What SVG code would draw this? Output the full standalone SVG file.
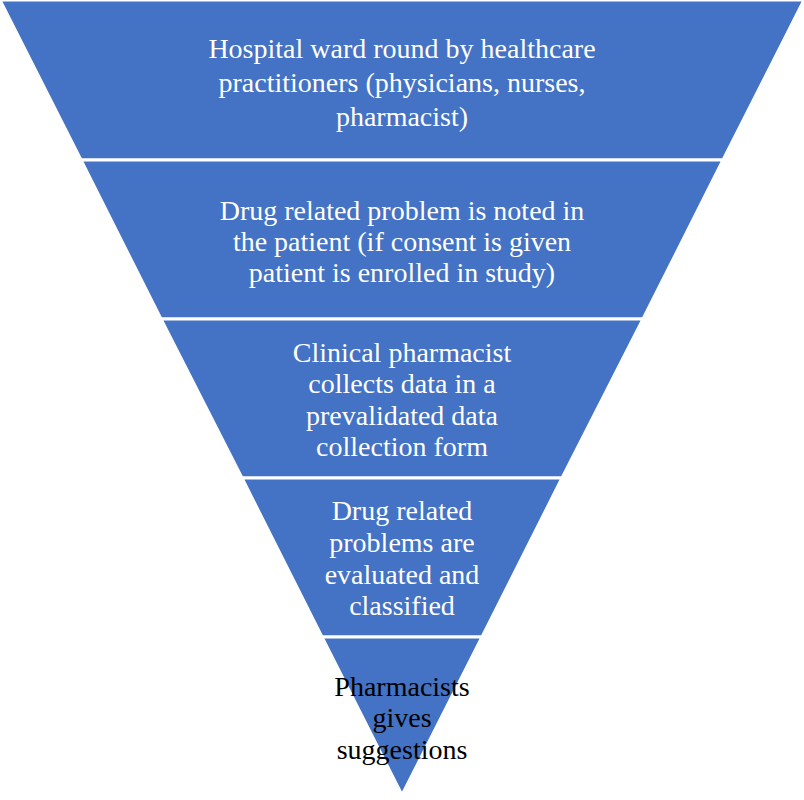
<svg xmlns="http://www.w3.org/2000/svg" width="804" height="800" viewBox="0 0 804 800">
<style>
.b{fill:#4472C4;stroke:#fff;stroke-width:3}
text{font-family:"Liberation Serif","Times New Roman",serif;font-size:28px;text-anchor:middle;fill:#fff}
.k{fill:#000}
</style>
<rect width="804" height="800" fill="#fff"/>
<g id="n1"><polygon class="b" points="0,0 804,0 723,160 81,160"/>
<text x="402" y="58">Hospital ward round by healthcare</text><text x="402" y="92">practitioners (physicians, nurses,</text><text x="402" y="126">pharmacist)</text></g>
<g id="n2"><polygon class="b" points="81,160 723,160 643,319 161,319"/>
<text x="402" y="220">Drug related problem is noted in</text><text x="402" y="251">the patient (if consent is given</text><text x="402" y="282">patient is enrolled in study)</text></g>
<g id="n3"><polygon class="b" points="161,319 643,319 562,478 242,478"/>
<text x="402" y="362">Clinical pharmacist</text><text x="402" y="393">collects data in a</text><text x="402" y="425">prevalidated data</text><text x="402" y="456">collection form</text></g>
<g id="n4"><polygon class="b" points="242,478 562,478 482,637 322,637"/>
<text x="402" y="520">Drug related</text><text x="402" y="552">problems are</text><text x="402" y="584">evaluated and</text><text x="402" y="615">classified</text></g>
<g id="n5"><polygon class="b" points="322,637 482,637 402,795"/>
<text class="k" x="402" y="696">Pharmacists</text><text class="k" x="402" y="727">gives</text><text class="k" x="402" y="759">suggestions</text></g>
<g id="connectors"/>
</svg>
